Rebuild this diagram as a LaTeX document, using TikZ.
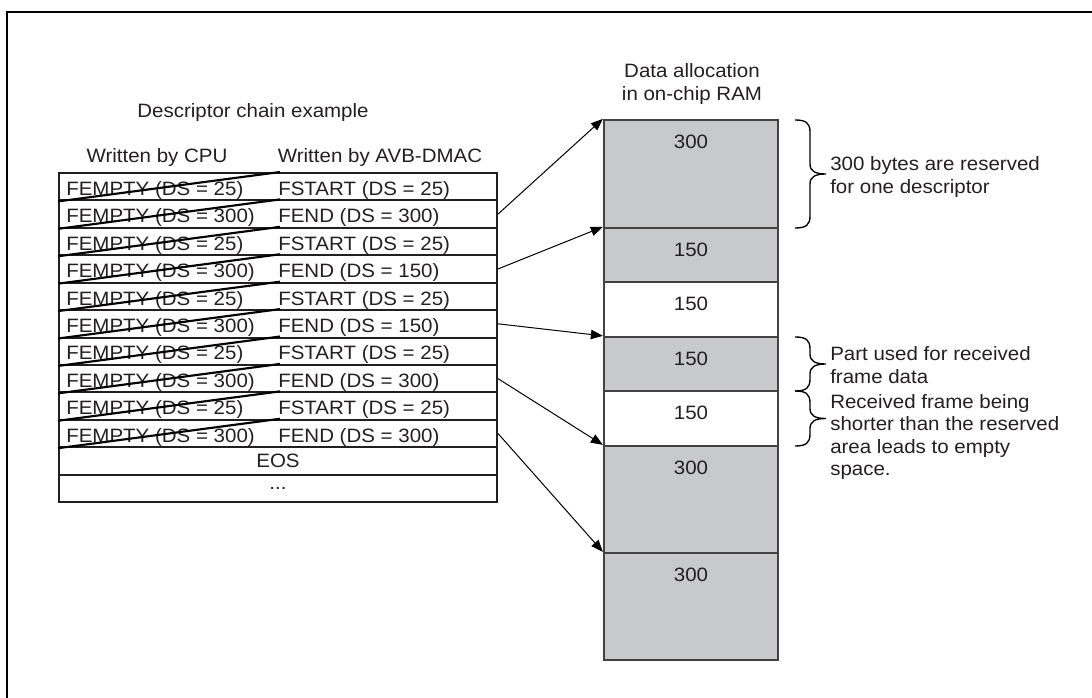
\documentclass[tikz,border=0pt]{standalone}
\usepackage{fontspec}
\setmainfont{Liberation Sans}[FakeStretch=1.06]
\usetikzlibrary{arrows.meta}
\definecolor{txt}{HTML}{231F20}
\definecolor{lin}{HTML}{231F20}
\definecolor{memfill}{HTML}{C8C9CB}
\newcommand\membrace[3]{%
  \draw[brc] (#1,#2) .. controls ({#1+11},#2) and ({#1+15},{#2+3}) .. ({#1+15},{#2+12})
    -- ({#1+15},{(#2+#3)/2-10}) .. controls ({#1+15},{(#2+#3)/2-3}) and ({#1+20},{(#2+#3)/2}) .. ({#1+31},{(#2+#3)/2})
    .. controls ({#1+20},{(#2+#3)/2}) and ({#1+15},{(#2+#3)/2+3}) .. ({#1+15},{(#2+#3)/2+10})
    -- ({#1+15},{#3-12}) .. controls ({#1+15},{#3-3}) and ({#1+11},#3) .. (#1,#3);}
\begin{document}
\begin{tikzpicture}[x=0.75pt,y=-0.75pt,
  every node/.style={font=\fontsize{14.5}{16.9}\selectfont, text=txt, inner sep=0pt},
  rowbox/.style={draw=lin, line width=1.5pt, minimum width=328.5pt, minimum height=20.56pt},
  mem/.style={draw=lin!85, fill=memfill, line width=1.7pt, minimum width=130.5pt},
  memw/.style={mem, fill=white},
  strike/.style={draw=black, line width=1.6pt},
  arr/.style={draw=black, line width=0.75pt, -{Triangle[length=9pt,width=7pt]}},
  brc/.style={draw=black, line width=1pt},
  frame/.style={draw=black, line width=1.8pt}]
\useasboundingbox (0,0) rectangle (1092,698);
\draw[frame] (7,700) -- (7,12) -- (1094,12);

% headings
\node (title) at (253,113) {Descriptor chain example};
\node (hcpu) at (157,158) {Written by CPU};
\node (hdma) at (380,158) {Written by AVB-DMAC};
\node[align=center] (hram) at (692,84) {Data allocation\\in on-chip RAM};

% descriptor rows
\coordinate (sx) at (280,0);
\foreach \i in {1,...,12}
  \node[rowbox] (r\i) at (278,{173+27.42*(\i-0.5)}) {};
\foreach \i/\v/\w/\t in {1/25/25/FSTART,2/300/300/FEND,3/25/25/FSTART,4/300/150/FEND,5/25/25/FSTART,6/300/150/FEND,7/25/25/FSTART,8/300/300/FEND,9/25/25/FSTART,10/300/300/FEND}{
  \path (r\i.south west) ++(8,-6) node[anchor=base west] (c\i) {FEMPTY (DS = \v)};
  \path (r\i.south west) ++(220,-6) node[anchor=base west] (d\i) {\t\ (DS = \w)};
  \draw[strike] (r\i.south west) -- (r\i.north west -| sx);
}
\node (eos) at (r11) {EOS};
\node (dots) at (r12) {...};

% memory blocks
\node[mem, minimum height=81pt] (m1) at (691,174) {};
\node[mem, minimum height=40.5pt] (m2) at (691,255) {};
\node[memw, minimum height=41.25pt] (m3) at (691,309.5) {};
\node[mem, minimum height=40.5pt] (m4) at (691,364) {};
\node[memw, minimum height=41.25pt] (m5) at (691,418.5) {};
\node[mem, minimum height=80.25pt] (m6) at (691,499.5) {};
\node[mem, minimum height=80.25pt] (m7) at (691,606.5) {};
\foreach \i/\n in {1/300,2/150,3/150,4/150,5/150,6/300,7/300}
  \path (m\i.north) ++(0,23) node (l\i) {\n};

% arrows
\draw[arr] (r2.east) -- (m1.north west);
\draw[arr] (r4.east) -- (m2.north west);
\draw[arr] (r6.east) -- (m4.north west);
\draw[arr] (r8.east) -- (m6.north west);
\draw[arr] (r10.east) -- (m7.north west);

% braces and notes
\membrace{795}{120}{228}
\membrace{795}{337}{391}
\membrace{795}{391}{446}
\node[anchor=west, align=left] (n1) at (830,177) {300 bytes are reserved\\for one descriptor};
\node[anchor=west, align=left] (n2) at (830,365) {Part used for received\\frame data};
\node[anchor=west, align=left] (n3) at (830,437) {Received frame being\\shorter than the reserved\\area leads to empty\\space.};
\end{tikzpicture}
\end{document}
